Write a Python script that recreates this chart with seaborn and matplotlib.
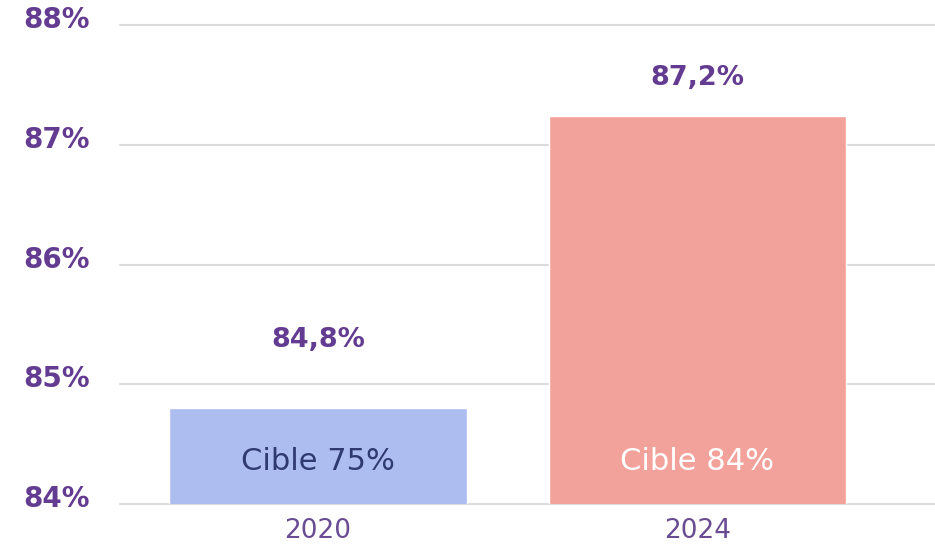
import numpy as np
import pandas as pd
import seaborn as sns
import matplotlib.pyplot as plt
from matplotlib.transforms import ScaledTranslation

# Données
years = ["2020", "2024"]
rates = [84.8, 87.24]
rate_labels = ["84,8%", "87,2%"]
target_labels = ["Cible 75%", "Cible 84%"]
y_ticks = [84, 85, 86, 87, 88]
y_tick_labels = ["84%", "85%", "86%", "87%", "88%"]

bar_colors = ["#AEBDF0", "#F3A29B"]
target_colors = ["#2F3A70", "#FFFFFF"]
label_offsets_px = [68, 38]
purple = "#633C92"

sns.set_style("white")
plt.rcParams['font.family'] = ['DejaVu Sans']

fig = plt.figure(figsize=(9.35, 5.48), dpi=100)
ax = fig.add_axes([120 / 935, 1 - 504 / 548, 1 - 120 / 935, (504 - 25) / 548])

df = pd.DataFrame({"year": years, "rate": rates})
sns.barplot(data=df, x="year", y="rate", hue="year", palette=bar_colors, saturation=1,
            width=0.785, legend=False, ax=ax, zorder=3)

ax.set_ylim(84, 88)
ax.set_xlim(-0.522, 1.626)
ax.set_yticks(y_ticks)
ax.set_yticklabels(y_tick_labels)
ax.yaxis.grid(True, color="#DCDCDC", linewidth=1.5, zorder=0)
for gl in ax.get_ygridlines():
    gl.set_clip_on(False)
ax.set_axisbelow(True)
ax.set_xlabel("")
ax.set_ylabel("")
sns.despine(ax=ax, left=True, bottom=True)
ax.tick_params(axis="y", length=0, pad=22, labelsize=20, labelcolor=purple)
ax.tick_params(axis="x", length=0, pad=10, labelsize=19, labelcolor="#6A4C93")
for lab in ax.get_yticklabels():
    lab.set_fontweight("bold")
    lab.set_transform(lab.get_transform() + ScaledTranslation(0, 8 / 100, fig.dpi_scale_trans))

for i, (v, txt) in enumerate(zip(rates, rate_labels)):
    ax.annotate(txt, (i, v), xytext=(0, label_offsets_px[i] * 0.72), textcoords="offset points",
                ha="center", va="center", fontsize=19.5, fontweight="bold", color=purple)
    ax.annotate(target_labels[i], (i, 84), xytext=(0, 42 * 0.72), textcoords="offset points",
                ha="center", va="center", fontsize=22, color=target_colors[i])

fig.savefig("out.png", dpi=100)
